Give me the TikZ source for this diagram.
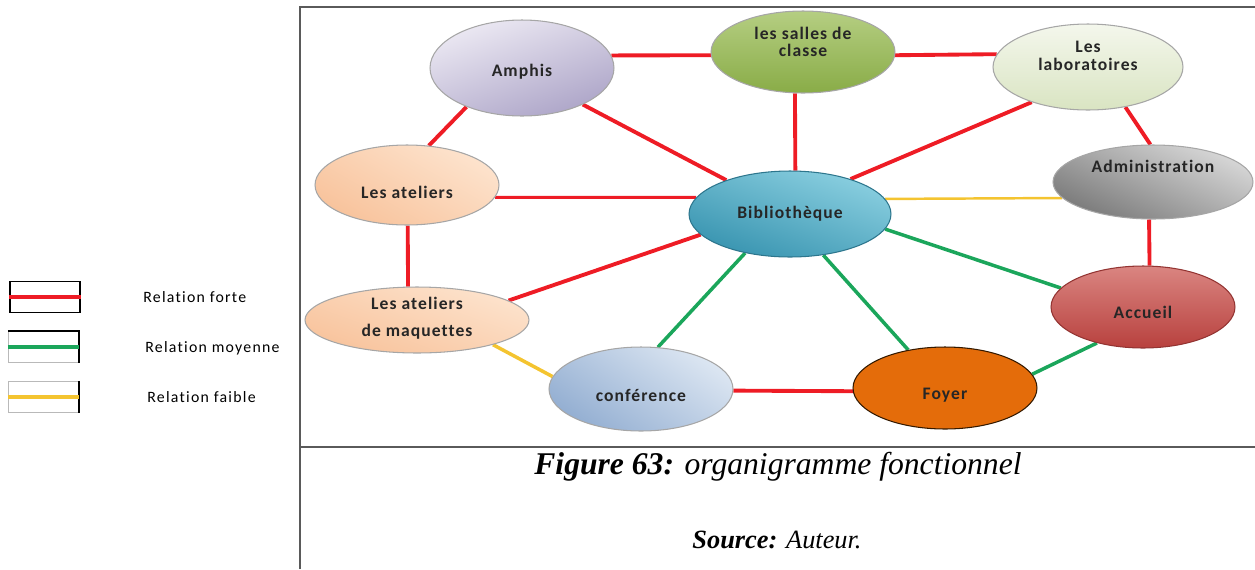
\documentclass[tikz,border=0pt]{standalone}
\usepackage{fontspec}
\setmainfont{Liberation Serif}
\newfontfamily\bullefont[LetterSpace=6, Ligatures=NoCommon]{Carlito}
\newfontfamily\legfont[LetterSpace=8, Ligatures=NoCommon]{Carlito}
\definecolor{rouge}{HTML}{EE1C25}
\definecolor{vert}{HTML}{1BA65B}
\definecolor{jaune}{HTML}{F4C430}
\definecolor{cadre}{HTML}{5A5A5A}
\definecolor{bord}{HTML}{A6A6A6}
\definecolor{amphisH}{HTML}{ECE9F3}
\definecolor{amphisB}{HTML}{ADA5C8}
\definecolor{sallesH}{HTML}{B5CE82}
\definecolor{sallesB}{HTML}{89AC47}
\definecolor{labosH}{HTML}{F4F7EC}
\definecolor{labosB}{HTML}{D9E4C2}
\definecolor{adminH}{HTML}{D8D8D8}
\definecolor{adminB}{HTML}{7A7A7A}
\definecolor{atelH}{HTML}{FDE3CD}
\definecolor{atelB}{HTML}{F8C39C}
\definecolor{biblioH}{HTML}{8ACFE0}
\definecolor{biblioB}{HTML}{3894B0}
\definecolor{confH}{HTML}{DCE6F2}
\definecolor{confB}{HTML}{94AFD2}
\definecolor{accueilH}{HTML}{DA8581}
\definecolor{accueilB}{HTML}{B8413E}
\definecolor{foyer}{HTML}{E46C0A}
\usetikzlibrary{shapes.geometric, backgrounds}

\tikzset{
  bulle/.style={ellipse, draw=bord, line width=0.6pt, inner sep=0pt},
  texte/.style={align=center, inner sep=0pt, text=black!85,
    font=\bullefont\bfseries\fontsize{10}{10}\selectfont},
  forte/.style={rouge, line width=2.2pt},
  moyenne/.style={vert, line width=2pt},
  faible/.style={jaune, line width=1.7pt},
  legbox/.style={draw=gray!55, line width=0.8pt, minimum width=1.4cm, minimum height=0.62cm, inner sep=0pt},
  legtext/.style={anchor=west, inner sep=0pt, font=\legfont\fontsize{9}{11}\selectfont}
}

\begin{document}
\begin{tikzpicture}[x=0.02cm, y=-0.02cm]
  \useasboundingbox (0,0) rectangle (1255,569);

  % cadre
  \draw[cadre, line width=1pt] (300,569) -- (300,7) -- (1255,7);
  \draw[cadre, line width=1pt] (300,447) -- (1255,447);

  % bulles
  \node[bulle, minimum width=3.68cm, minimum height=1.92cm, top color=amphisH, bottom color=amphisB, shading angle=20,
    label={[texte, yshift=-2.3pt]center:Amphis}] (amphis) at (522,68) {};
  \node[bulle, minimum width=3.68cm, minimum height=1.64cm, top color=sallesH, bottom color=sallesB,
    label={[texte, yshift=5.7pt]center:les salles de\\classe}] (salles) at (803,52) {};
  \node[bulle, minimum width=3.8cm, minimum height=1.72cm, top color=labosH, bottom color=labosB,
    label={[texte, yshift=6.5pt]center:Les\\laboratoires}] (labos) at (1088,67) {};
  \node[bulle, minimum width=4cm, minimum height=1.48cm, top color=adminH, bottom color=adminB, shading angle=-25,
    label={[texte, yshift=9pt]center:Administration}] (admin) at (1153,182) {};
  \node[bulle, minimum width=3.68cm, minimum height=1.6cm, top color=atelH, bottom color=atelB, shading angle=-30,
    label={[texte, yshift=-4pt]center:Les ateliers}] (ateliers) at (407,185) {};
  \node[bulle, draw=biblioB!80!black, minimum width=4.04cm, minimum height=1.72cm, top color=biblioH, bottom color=biblioB, shading angle=-20,
    label={[texte]center:Bibliothèque}] (biblio) at (790,214) {};
  \node[bulle, minimum width=4.48cm, minimum height=1.32cm, top color=atelH, bottom color=atelB, shading angle=-20,
    label={[texte, yshift=1pt]center:Les ateliers\\[5pt]de maquettes}] (maquettes) at (417,320) {};
  \node[bulle, minimum width=3.68cm, minimum height=1.68cm, top color=confH, bottom color=confB, shading angle=-35,
    label={[texte, yshift=-3.4pt]center:conférence}] (conf) at (641,389) {};
  \node[bulle, draw=accueilB!80!black, minimum width=3.68cm, minimum height=1.64cm, top color=accueilH, bottom color=accueilB,
    label={[texte, yshift=-2.8pt]center:Accueil}] (accueil) at (1143,307) {};
  \node[bulle, draw=black!80!orange, minimum width=3.68cm, minimum height=1.64cm, fill=foyer,
    label={[texte, yshift=-4pt]center:Foyer}] (foyer) at (945,388) {};

  % relations
  \begin{scope}[on background layer]
    \draw[forte] (amphis.8) -- (salles.182);
    \draw[forte] (salles.-2) -- (labos.172.5);
    \draw[forte] (amphis.-31) -- (biblio.152);
    \draw[forte] (salles.-101) -- (biblio.83.4);
    \draw[forte] (labos.-148) -- (biblio.30);
    \draw[forte] (labos.-47) -- (admin.94.6);
    \draw[forte] (amphis.-145) -- (ateliers.61);
    \draw[forte, line width=1.7pt] (ateliers.-8.5) -- (biblio.170.3);
    \draw[forte] (ateliers.-89) -- (maquettes.105.3);
    \draw[forte] (maquettes.12.4) -- (biblio.-167);
    \draw[forte] (admin.-96.2) -- (accueil.81.7);
    \draw[forte] (conf.-1.9) -- (foyer.182.5);
    \draw[moyenne] (biblio.-139.8) -- (conf.68.7);
    \draw[moyenne] (biblio.-51.2) -- (foyer.134.2);
    \draw[moyenne] (biblio.-9.2) -- (accueil.167);
    \draw[moyenne] (accueil.-142) -- (foyer.9.8);
    \draw[faible, line width=1.4pt] (biblio.9.7) -- (admin.-170);
    \draw[faible, line width=2pt] (maquettes.-18) -- (conf.172.2);
  \end{scope}

  % legende
  \node[legbox, draw=black] (cle1) at (45,297) {};
  \draw[forte, line width=1.9pt] (cle1.west) -- (cle1.east);
  \node[legtext] (lforte) at (143,297) {Relation forte};

  \node[legbox] (cle2) at (43.5,347) {};
  \draw[black, line width=0.8pt] (cle2.north west) -- (cle2.north east) -- (cle2.south east);
  \draw[moyenne, line width=1.9pt] (cle2.west) -- (cle2.east);
  \node[legtext] (lmoyenne) at (145,348) {Relation moyenne};

  \node[legbox] (cle3) at (43.5,397) {};
  \draw[black, line width=0.8pt] (cle3.north east) -- (cle3.south east);
  \draw[faible, line width=1.9pt] (cle3.west) -- (cle3.east);
  \node[legtext] (lfaible) at (147,397) {Relation faible};

  % legende de la figure
  \node[font=\itshape\fontsize{18}{20}\selectfont] (titre) at (778,467) {\textbf{Figure 63:} organigramme fonctionnel};
  \node[font=\itshape\fontsize{15}{17}\selectfont] (source) at (777,540) {\textbf{Source:} Auteur.};
\end{tikzpicture}
\end{document}
